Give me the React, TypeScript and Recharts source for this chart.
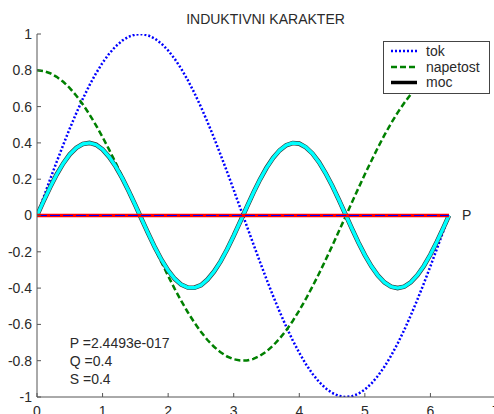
import React from 'react';
import { LineChart, Line, XAxis, YAxis, Legend, ReferenceDot } from 'recharts';

const xs = [0, 0.1, 0.2, 0.3, 0.4, 0.5, 0.6, 0.7, 0.8, 0.9, 1.0, 1.1, 1.2, 1.3, 1.4, 1.5, 1.6, 1.7, 1.8, 1.9, 2.0, 2.1, 2.2, 2.3, 2.4, 2.5, 2.6, 2.7, 2.8, 2.9, 3.0, 3.1, 3.2, 3.3, 3.4, 3.5, 3.6, 3.7, 3.8, 3.9, 4.0, 4.1, 4.2, 4.3, 4.4, 4.5, 4.6, 4.7, 4.8, 4.9, 5.0, 5.1, 5.2, 5.3, 5.4, 5.5, 5.6, 5.7, 5.8, 5.9, 6.0, 6.1, 6.2, 6.283];
const tok = [0, 0.0998, 0.1987, 0.2955, 0.3894, 0.4794, 0.5646, 0.6442, 0.7174, 0.7833, 0.8415, 0.8912, 0.932, 0.9636, 0.9854, 0.9975, 0.9996, 0.9917, 0.9738, 0.9463, 0.9093, 0.8632, 0.8085, 0.7457, 0.6755, 0.5985, 0.5155, 0.4274, 0.335, 0.2392, 0.1411, 0.0416, -0.0584, -0.1577, -0.2555, -0.3508, -0.4425, -0.5298, -0.6119, -0.6878, -0.7568, -0.8183, -0.8716, -0.9162, -0.9516, -0.9775, -0.9937, -0.9999, -0.9962, -0.9825, -0.9589, -0.9258, -0.8835, -0.8323, -0.7728, -0.7055, -0.6313, -0.5507, -0.4646, -0.3739, -0.2794, -0.1822, -0.0831, 0];
const napetost = [0.8, 0.796, 0.784, 0.764, 0.737, 0.702, 0.66, 0.612, 0.557, 0.497, 0.432, 0.363, 0.29, 0.214, 0.136, 0.057, -0.023, -0.103, -0.182, -0.259, -0.333, -0.404, -0.471, -0.533, -0.59, -0.641, -0.686, -0.723, -0.754, -0.777, -0.792, -0.799, -0.799, -0.79, -0.773, -0.749, -0.717, -0.678, -0.633, -0.581, -0.523, -0.46, -0.392, -0.321, -0.246, -0.169, -0.09, -0.01, 0.07, 0.149, 0.227, 0.302, 0.375, 0.444, 0.508, 0.567, 0.62, 0.668, 0.708, 0.742, 0.768, 0.787, 0.797, 0.8];
const moc = [0, 0.079, 0.156, 0.226, 0.287, 0.337, 0.373, 0.394, 0.4, 0.39, 0.364, 0.323, 0.27, 0.206, 0.134, 0.056, -0.023, -0.102, -0.177, -0.245, -0.303, -0.349, -0.381, -0.397, -0.398, -0.384, -0.353, -0.309, -0.253, -0.186, -0.112, -0.033, 0.047, 0.125, 0.198, 0.263, 0.317, 0.359, 0.387, 0.399, 0.396, 0.376, 0.342, 0.294, 0.234, 0.165, 0.089, 0.01, -0.07, -0.147, -0.218, -0.28, -0.331, -0.369, -0.392, -0.4, -0.392, -0.368, -0.329, -0.278, -0.215, -0.143, -0.066, 0];
const snaga = xs.map(() => 0);

const xTicks = [0, 1, 2, 3, 4, 5, 6, 7];
const yTicks = [-1, -0.8, -0.6, -0.4, -0.2, 0, 0.2, 0.4, 0.6, 0.8, 1];
const legendNames = ['tok', 'napetost', 'moc'];
const titleText = 'INDUKTIVNI KARAKTER';
const infoLines = [
  { x: 0.5, y: -0.7, text: 'P =2.4493e-017' },
  { x: 0.5, y: -0.8, text: 'Q =0.4' },
  { x: 0.5, y: -0.9, text: 'S =0.4' },
  { x: 6.48, y: 0, text: 'P' },
];

const data = xs.map((x, i) => ({ x, tok: tok[i], napetost: napetost[i], moc: moc[i], p: snaga[i] }));

const FONT = '"Liberation Sans", Arial, Helvetica, sans-serif';
const AX = '#555';
const TXT = '#2a2a2a';
const legendY = [14.5, 30.5, 46];

const LegendBox = () => (
  <svg width={107} height={53} style={{ display: 'block' }}>
    <rect x={0.5} y={0.5} width={106} height={52} fill="#fff" stroke="#444" strokeWidth={1} />
    <line x1={8} x2={34} y1={10} y2={10} stroke="#0000ff" strokeWidth={2.5} strokeDasharray="2 2" />
    <line x1={8} x2={34} y1={26} y2={26} stroke="#008000" strokeWidth={2.5} strokeDasharray="6 3" />
    <line x1={8} x2={34} y1={41.5} y2={41.5} stroke="#000" strokeWidth={3.5} />
    {legendNames.map((n, i) => (
      <text key={n} x={43} y={legendY[i]} fontFamily={FONT} fontSize={14} fill={TXT}>
        {n}
      </text>
    ))}
  </svg>
);

export default function App() {
  return (
    <div style={{ position: 'absolute', left: 0, top: 0, width: 494, height: 414, overflow: 'hidden', background: '#fff' }}>
      <div
        style={{
          position: 'absolute',
          left: 0,
          width: 531,
          top: 11,
          textAlign: 'center',
          fontFamily: FONT,
          fontSize: 14,
          lineHeight: '16px',
          color: TXT,
        }}
      >
        {titleText}
      </div>
      <LineChart width={496} height={414} data={data} margin={{ top: 34, right: 0, bottom: 0, left: 0 }}>
        <XAxis
          dataKey="x"
          type="number"
          domain={[0, 7]}
          ticks={xTicks}
          allowDataOverflow
          height={17}
          tickSize={-4}
          tickMargin={13}
          stroke={AX}
          tick={{ fill: TXT, fontSize: 14, fontFamily: FONT }}
          interval={0}
        />
        <XAxis
          xAxisId="top"
          orientation="top"
          type="number"
          domain={[0, 7]}
          ticks={xTicks}
          allowDataOverflow
          height={0}
          tickSize={-4}
          stroke={AX}
          tick={() => null}
          interval={0}
        />
        <YAxis
          type="number"
          domain={[-1, 1]}
          ticks={yTicks}
          allowDataOverflow
          width={37}
          tickSize={-4}
          tickMargin={9}
          stroke={AX}
          tick={{ fill: TXT, fontSize: 14, fontFamily: FONT }}
          interval={0}
        />
        <YAxis
          yAxisId="right"
          orientation="right"
          type="number"
          domain={[-1, 1]}
          ticks={yTicks}
          allowDataOverflow
          width={0}
          tickSize={-4}
          stroke={AX}
          tick={() => null}
          interval={0}
        />
        <Line dataKey="tok" stroke="#0000ff" strokeWidth={2.5} strokeDasharray="2 2" dot={false} isAnimationActive={false} type="linear" />
        <Line dataKey="napetost" stroke="#008000" strokeWidth={2.5} strokeDasharray="6 3" dot={false} isAnimationActive={false} type="linear" />
        <Line dataKey="moc" stroke="#333" strokeWidth={4.6} dot={false} isAnimationActive={false} type="linear" />
        <Line dataKey={(d: any) => d.moc} name="mocc" stroke="#00ffff" strokeWidth={3.4} dot={false} isAnimationActive={false} type="linear" />
        <Line dataKey="p" stroke="#ff0000" strokeWidth={3.5} dot={false} isAnimationActive={false} type="linear" />
        <Line dataKey={(d: any) => d.p} name="pp" stroke="#0000ff" strokeWidth={1.2} strokeDasharray="10 3" dot={false} isAnimationActive={false} type="linear" />
        {infoLines.map((t) => (
          <ReferenceDot
            key={t.text}
            x={t.x}
            y={t.y}
            r={1}
            fill="none"
            stroke="none"
            label={{ value: t.text, position: 'right', offset: -1, fill: TXT, fontSize: 14, fontFamily: FONT }}
          />
        ))}
        <Legend
          layout="vertical"
          align="center"
          verticalAlign="middle"
          content={() => <LegendBox />}
          wrapperStyle={{ left: 383, top: 41, width: 107, height: 53 }}
        />
      </LineChart>
    </div>
  );
}
